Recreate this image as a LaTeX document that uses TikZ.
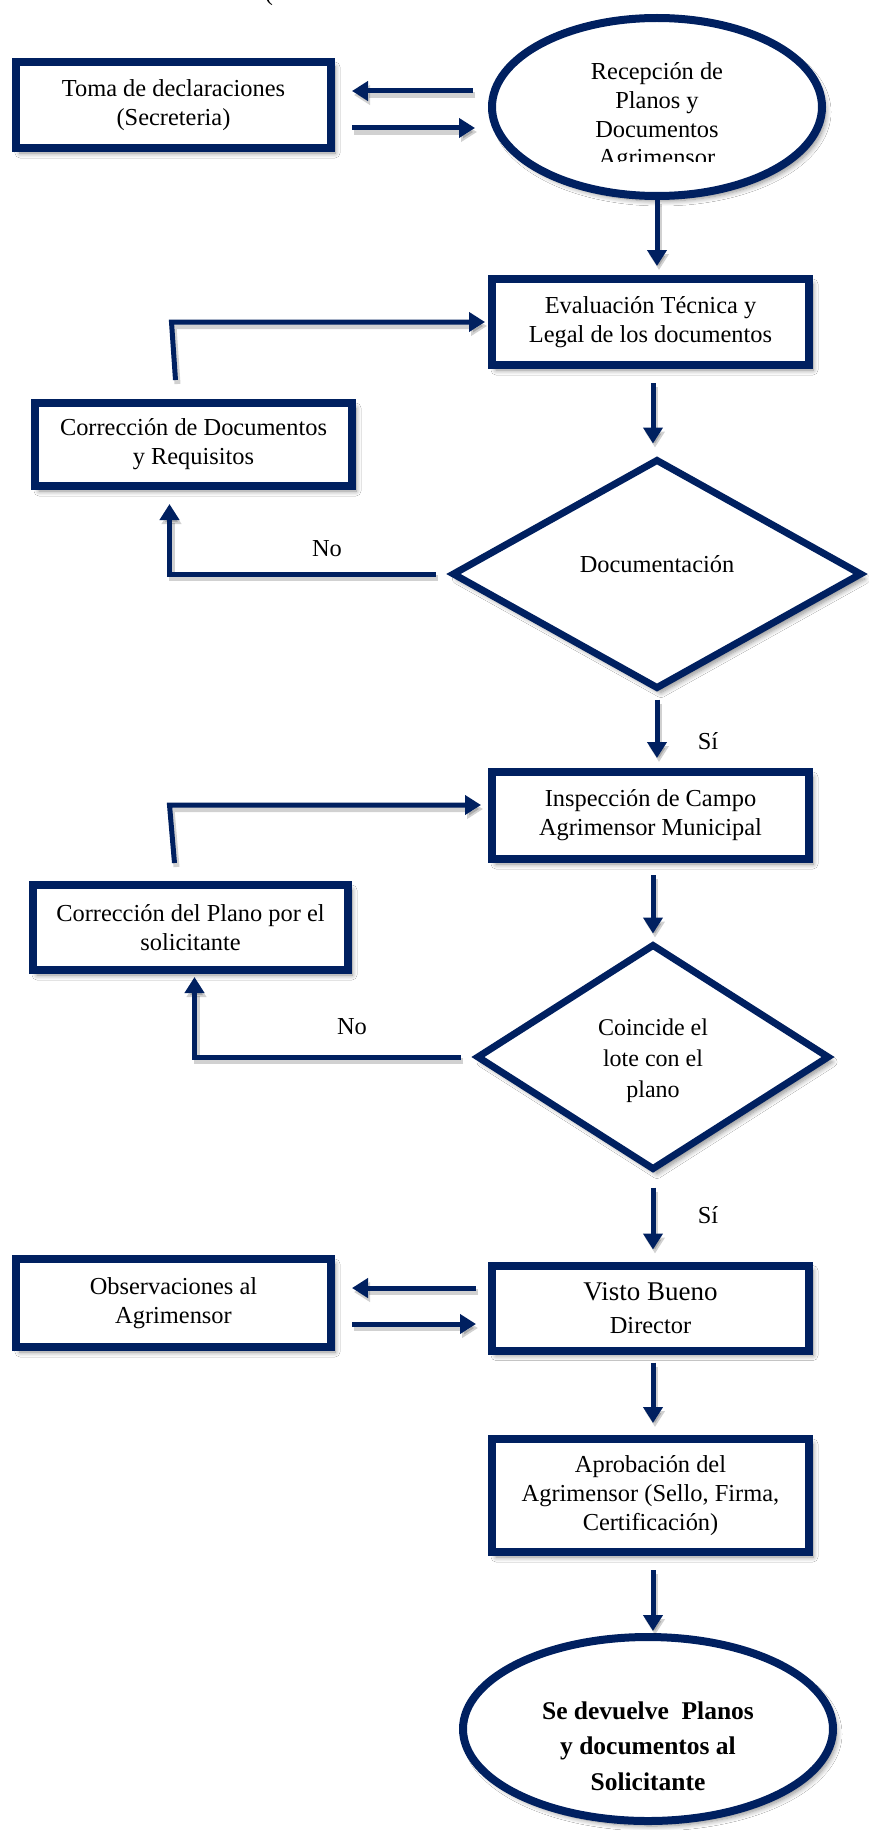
\documentclass[tikz,border=0pt]{standalone}
\usepackage{fontspec}
\setmainfont{Liberation Serif}
\usetikzlibrary{shapes.geometric,arrows.meta,shadows.blur}
\definecolor{navy}{HTML}{002060}
\begin{document}
\begin{tikzpicture}[x=1pt,y=-1pt,
  every node/.style={font=\fontsize{24.4}{29}\selectfont, align=center, text=black, inner sep=0pt},
  softshadow/.style={blur shadow={shadow xshift=4pt, shadow yshift=-5pt, shadow blur radius=5pt, shadow blur steps=8, shadow opacity=45}},
  procbox/.style={rectangle, draw=navy, line width=8pt, fill=white, softshadow},
  terminal/.style={ellipse, draw=navy, line width=8pt, fill=white, softshadow},
  decision/.style={diamond, draw=navy, line width=7pt, fill=white, softshadow},
  flow/.style={draw=navy, line width=5pt, line join=miter,
    -{Triangle[length=16pt,width=19pt]},
    preaction={draw=black, opacity=0.18, line width=6pt, transform canvas={shift={(2pt,-4pt)}}}}
]
% page
\path[fill=white, use as bounding box] (0,0) rectangle (869,1830);

% stray bracket at the top edge
\node[anchor=south] (paren) at (269,6) {(};

% ---- reception and statements
\node[procbox, minimum width=315pt, minimum height=86pt] (toma) at (173.5,105) {Toma de declaraciones\\(Secreteria)};
\node[terminal, minimum width=330pt, minimum height=178pt] (recep) at (657,107) {};
\begin{scope}
  \clip (480,0) rectangle (840,162);
  \node[font=\fontsize{24.4}{28.6}\selectfont] (recepText) at (657,117) {Recepción de\\Planos y\\Documentos\\Agrimensor};
\end{scope}

% ---- technical evaluation
\node[procbox, minimum width=317pt, minimum height=86pt] (eval) at (650.5,322) {Evaluación Técnica y\\Legal de los documentos};
\node[decision, minimum width=410pt, minimum height=230pt] (doc) at (657,574) {};
\node (docText) at (657,564) {Documentación};
\node[procbox, minimum width=317pt, minimum height=83pt] (corr1) at (193.5,444.5) {Corrección de Documentos\\y Requisitos};

% ---- field inspection
\node[procbox, minimum width=317pt, minimum height=87pt] (insp) at (650.5,815.5) {Inspección de Campo\\Agrimensor Municipal};
\node[decision, minimum width=353pt, minimum height=226pt] (coin) at (653,1057) {};
\node[font=\fontsize{24}{31}\selectfont] (coinText) at (653,1061) {Coincide el\\lote con el\\plano};
\node[procbox, minimum width=315pt, minimum height=85pt] (corr2) at (190.5,927.5) {Corrección del Plano por el\\solicitante};

% ---- approval
\node[procbox, minimum width=317pt, minimum height=85pt, font=\fontsize{27}{33}\selectfont] (visto) at (650.5,1308) {Visto Bueno\\{\fontsize{24.4}{29}\selectfont Director}};
\node[procbox, minimum width=315pt, minimum height=88pt] (obs) at (173.5,1303) {Observaciones al\\Agrimensor};
\node[procbox, minimum width=317pt, minimum height=113pt] (aprob) at (650.5,1495.5) {Aprobación del\\Agrimensor (Sello, Firma,\\Certificación)};
\node[terminal, minimum width=370pt, minimum height=184pt] (final) at (648,1729) {};
\node[font=\bfseries\fontsize{25.5}{35.5}\selectfont] (finalText) at (648,1746) {Se devuelve\ \ Planos\\y documentos al\\Solicitante};

% ---- branch labels
\node (no1) at (327,549) {No};
\node (no2) at (352,1027) {No};
\node (si1) at (708,741) {Sí};
\node (si2) at (708,1215) {Sí};

% ---- connectors
\draw[flow] ([xshift=-15pt]recep.west |- 0,91) -- ([xshift=17pt]toma.east |- 0,91);
\draw[flow] ([xshift=17pt]toma.east |- 0,128) -- ([xshift=-13pt]recep.west |- 0,128);
\draw[flow] (recep.south) -- ([yshift=9pt]recep.south |- eval.north);
\draw[flow] ([xshift=2.5pt,yshift=-14pt]eval.south) -- ([xshift=2.5pt,yshift=12pt]eval.south |- doc.north);
\draw[flow] ([xshift=-13pt]doc.west) -| ([xshift=-24pt,yshift=-14pt]corr1.south);
\draw[flow] ([xshift=-18pt,yshift=19pt]corr1.north) -- ([xshift=-22pt]corr1.north |- eval.west) -- ([xshift=-3pt]eval.west);
\draw[flow] ([yshift=-7pt]doc.south) -- ([yshift=10pt]doc.south |- insp.north);
\draw[flow] ([xshift=2.5pt,yshift=-12pt]insp.south) -- ([xshift=2.5pt,yshift=7pt]insp.south |- coin.north);
\draw[flow] ([xshift=-12pt]coin.west) -| ([xshift=4pt,yshift=-3pt]corr2.south);
\draw[flow] ([xshift=-16pt,yshift=18pt]corr2.north) -- ([xshift=-21pt]corr2.north |- 0,805) -- ([xshift=-7pt]insp.west |- 0,805);
\draw[flow] ([yshift=-14pt]coin.south) -- ([yshift=12pt]coin.south |- visto.north);
\draw[flow] ([xshift=-12pt]visto.west |- 0,1288) -- ([xshift=17pt]obs.east |- 0,1288);
\draw[flow] ([xshift=17pt]obs.east |- 0,1324) -- ([xshift=-12pt]visto.west |- 0,1324);
\draw[flow] ([xshift=2.5pt,yshift=-8pt]visto.south) -- ([xshift=2.5pt,yshift=12pt]visto.south |- aprob.north);
\draw[flow] ([xshift=2.5pt,yshift=-14pt]aprob.south) -- ([xshift=2.5pt,yshift=2pt]aprob.south |- final.north);
\end{tikzpicture}
\end{document}
